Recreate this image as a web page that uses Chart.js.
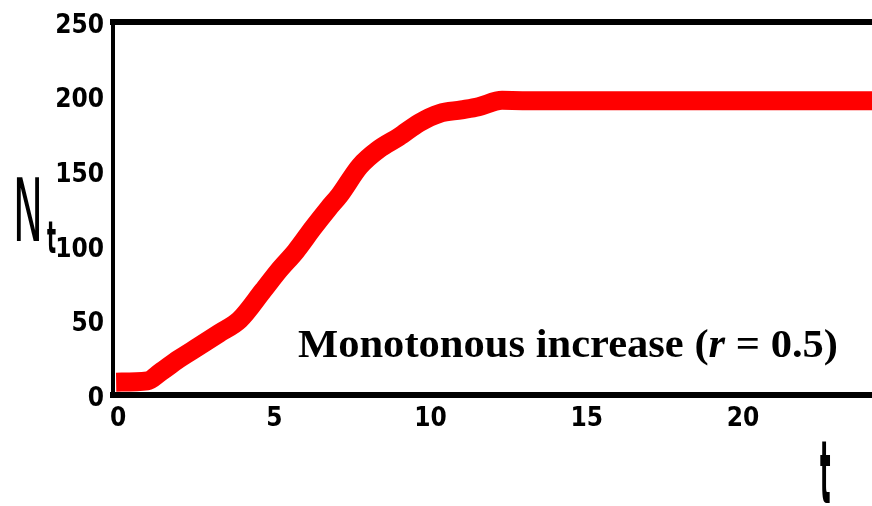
<!DOCTYPE html>
<html><head><meta charset="utf-8">
<script src="https://cdn.jsdelivr.net/npm/chart.js@4.4.1/dist/chart.umd.min.js"></script>
<style>html,body{margin:0;padding:0;background:#fff}#wrap{width:872px;height:506px;position:relative}</style>
</head><body><div id="wrap"><canvas id="c"></canvas></div>
<script>
// ---- data ----
const tValues = [0, 1, 1.4, 2, 2.65, 3.3, 3.95, 4.7, 5.2, 5.75, 6.3, 6.8, 7.15, 7.8, 8.4, 9.05, 9.7, 10.35, 11.05, 11.6, 12.35, 13, 15, 20, 25];
const nValues = [8.6, 9.5, 15, 24, 32.6, 41.4, 50.3, 69.9, 83.3, 96.4, 111.9, 125.2, 133.9, 153.4, 164.6, 173, 182.4, 188.7, 191.1, 193.2, 197.5, 197.3, 197.3, 197.3, 197.3];
const xTickValues = [0, 5, 10, 15, 20];
const yTickValues = [0, 50, 100, 150, 200, 250];
const annotationParts = ['Monotonous increase (', 'r', ' = 0.5)'];
const yTitleMain = 'N';
const yTitleSub = 't';
const xTitle = 't';

const tickFont = {family: '"DejaVu Sans Condensed", "DejaVu Sans", sans-serif', size: 26, weight: 'bold'};

const textPlugin = {
  id: 'texts',
  afterDraw(chart) {
    const ctx = chart.ctx;
    ctx.save();
    ctx.fillStyle = '#000';
    ctx.textBaseline = 'alphabetic';
    ctx.textAlign = 'left';
    // y title N_t
    ctx.save();
    ctx.font = 'normal 40px "DejaVu Sans"';
    ctx.translate(13, 241);
    ctx.scale(1, 2.2);
    ctx.fillText(yTitleMain, 0, 0);
    ctx.restore();
    ctx.save();
    ctx.font = 'bold 19px "DejaVu Sans"';
    ctx.translate(47, 253);
    ctx.scale(1, 2.3);
    ctx.fillText(yTitleSub, 0, 0);
    ctx.restore();
    // x title t
    ctx.save();
    ctx.font = 'bold 22px "DejaVu Sans"';
    ctx.translate(820, 503);
    ctx.scale(1, 4.0);
    ctx.fillText(xTitle, 0, 0);
    ctx.restore();
    // annotation
    const fam = '"Liberation Serif", "Times New Roman", serif';
    const size = 40;
    const fonts = ['bold ' + size + 'px ' + fam, 'italic bold ' + size + 'px ' + fam, 'bold ' + size + 'px ' + fam];
    let total = 0;
    const widths = annotationParts.map((p, i) => { ctx.font = fonts[i]; const w = ctx.measureText(p).width; total += w; return w; });
    const target = 540;
    const k = target / total;
    ctx.save();
    ctx.translate(298, 357);
    ctx.scale(k, 1);
    let x = 0;
    annotationParts.forEach((p, i) => { ctx.font = fonts[i]; ctx.fillText(p, x, 0); x += widths[i]; });
    ctx.restore();
    ctx.restore();
  }
};

const points = tValues.map((t, i) => ({x: t, y: nValues[i]}));

new Chart(document.getElementById('c'), {
  type: 'line',
  data: {
    datasets: [{
      data: points,
      borderColor: '#ff0000',
      backgroundColor: '#ff0000',
      borderWidth: 19,
      pointRadius: 0,
      cubicInterpolationMode: 'monotone',
      borderCapStyle: 'butt',
      fill: false,
      clip: 0
    }]
  },
  options: {
    responsive: true,
    maintainAspectRatio: false,
    animation: false,
    devicePixelRatio: 1,
    layout: {padding: {top: 22, left: 0, right: 0, bottom: 0}},
    plugins: {legend: {display: false}, tooltip: {enabled: false}},
    scales: {
      x: {
        type: 'linear', position: 'bottom', min: -0.1, max: 24.19, z: 1,
        afterBuildTicks: s => { s.ticks = xTickValues.map(v => ({value: v})); },
        afterFit: s => { s.height = 111; s.paddingLeft = 0; s.paddingRight = 0; },
        grid: {display: false, drawTicks: false},
        border: {display: true, width: 6, color: '#000'},
        ticks: {font: tickFont, color: '#000', padding: 9, labelOffset: 2, maxRotation: 0, autoSkip: false}
      },
      xTop: {
        type: 'linear', position: 'top', min: -0.1, max: 24.19, z: 1,
        afterFit: s => { s.height = 0; s.paddingLeft = 0; s.paddingRight = 0; },
        grid: {display: false, drawTicks: false},
        border: {display: true, width: 6, color: '#000'},
        ticks: {display: false}
      },
      y: {
        type: 'linear', position: 'left', min: 0, max: 250, z: 1,
        afterBuildTicks: s => { s.ticks = yTickValues.map(v => ({value: v})); },
        afterFit: s => { s.width = 113; s.paddingTop = 0; s.paddingBottom = 0; },
        grid: {display: false, drawTicks: false},
        border: {display: true, width: 4, color: '#000'},
        ticks: {font: tickFont, color: '#000', padding: 9, labelOffset: 4}
      }
    }
  },
  plugins: [textPlugin]
});
</script>
</body></html>
